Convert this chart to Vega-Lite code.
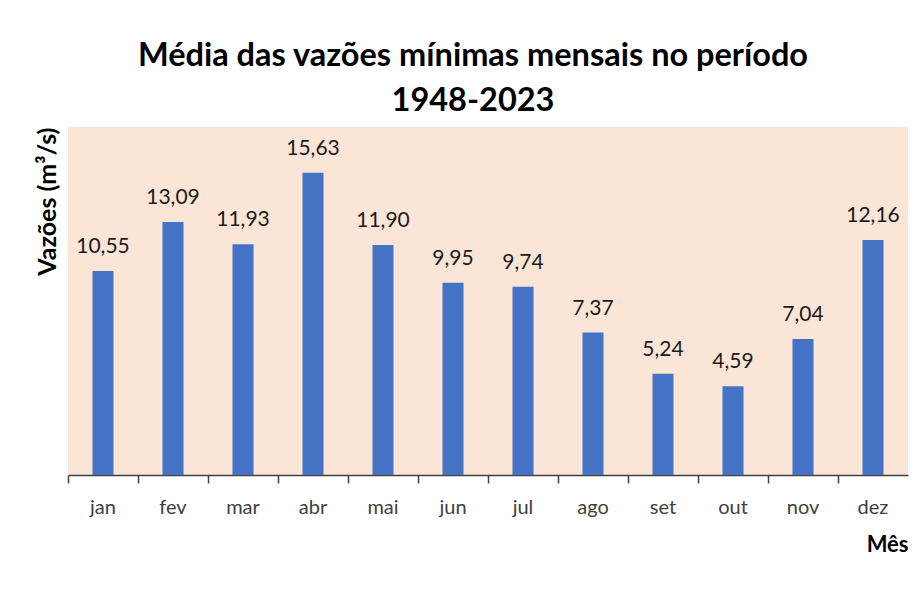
{
  "$schema": "https://vega.github.io/schema/vega-lite/v6.json",
  "width": 840,
  "height": 348,
  "autosize": {"type": "none"},
  "padding": {"left": 68, "top": 127, "right": 16, "bottom": 115},
  "background": "white",
  "config": {
    "font": "Lato",
    "locale": {"number": {"decimal": ",", "thousands": ".", "grouping": [3], "currency": ["R$", ""]}},
    "view": {"fill": "#FBE5D6", "stroke": null}
  },
  "title": {
    "text": ["Média das vazões mínimas mensais no período", "1948-2023"],
    "fontSize": 32.5,
    "fontWeight": "bold",
    "color": "#000000",
    "lineHeight": 45,
    "anchor": "middle",
    "offset": 10,
    "dx": -15
  },
  "data": {
    "values": [
      {"mes": "jan", "vazao": 10.55},
      {"mes": "fev", "vazao": 13.09},
      {"mes": "mar", "vazao": 11.93},
      {"mes": "abr", "vazao": 15.63},
      {"mes": "mai", "vazao": 11.90},
      {"mes": "jun", "vazao": 9.95},
      {"mes": "jul", "vazao": 9.74},
      {"mes": "ago", "vazao": 7.37},
      {"mes": "set", "vazao": 5.24},
      {"mes": "out", "vazao": 4.59},
      {"mes": "nov", "vazao": 7.04},
      {"mes": "dez", "vazao": 12.16}
    ]
  },
  "encoding": {
    "x": {
      "field": "mes",
      "type": "nominal",
      "sort": null,
      "scale": {"paddingInner": 0, "paddingOuter": 0},
      "axis": {
        "title": "Mês",
        "titleFontSize": 22,
        "titleFontWeight": "bold",
        "titleColor": "#000000",
        "titleAnchor": "end",
        "titleAlign": "right",
        "titlePadding": 17,
        "labelAngle": 0,
        "labelFontSize": 20,
        "labelColor": "#404040",
        "labelPadding": 14,
        "bandPosition": 0,
        "ticks": true,
        "tickSize": 8,
        "tickColor": "#404040",
        "tickWidth": 1.5,
        "domainColor": "#404040",
        "domainWidth": 1.5,
        "grid": false
      }
    },
    "y": {
      "field": "vazao",
      "type": "quantitative",
      "scale": {"domain": [0, 18]},
      "axis": {
        "title": "Vazões (m³/s)",
        "titleFontSize": 25,
        "titleFontWeight": "bold",
        "titleColor": "#000000",
        "titleAnchor": "end",
        "titlePadding": 8,
        "labels": false,
        "ticks": false,
        "domain": false,
        "grid": false
      }
    }
  },
  "layer": [
    {"mark": {"type": "bar", "color": "#4472C4", "width": {"band": 0.3}}},
    {
      "mark": {"type": "text", "fontSize": 21, "color": "#1a1a1a", "baseline": "alphabetic", "dy": -18},
      "encoding": {"text": {"field": "vazao", "type": "quantitative", "format": ".2f"}}
    }
  ]
}
